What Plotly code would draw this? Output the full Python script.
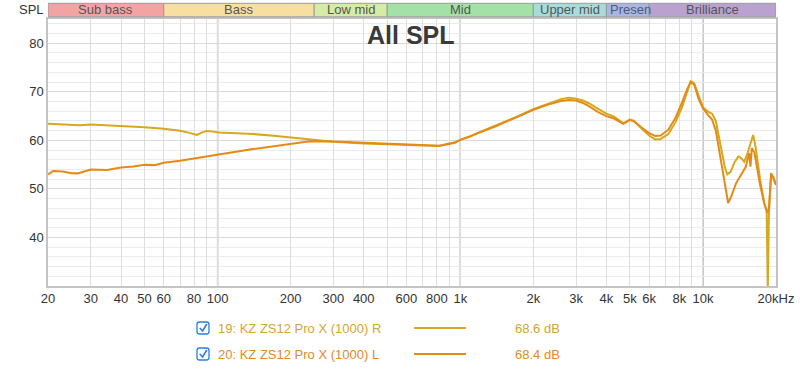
import numpy as np
import plotly.graph_objects as go

# ---------------- data ----------------
freq_r = [20, 22, 24.6, 27, 30, 35, 40, 45, 50, 60, 70, 76, 82, 86, 90, 96, 101, 120, 140, 170, 192,
          240, 300, 400, 500, 600, 700, 820, 870, 950, 1000, 1100, 1200, 1400, 1700, 2000, 2300,
          2600, 2800, 3000, 3200, 3400, 3700, 4000, 4300, 4700, 5000, 5200, 5600, 6000, 6350,
          6700, 7200, 7700, 8200, 8600, 8900, 9200, 9600, 10000, 10500, 10900, 11300, 11800,
          12300, 12600, 13000, 13500, 14000, 14400, 14800, 15300, 15800, 16100, 16500, 17200,
          17900, 18300, 18500, 18700, 19100, 19500, 20000]
spl_r = [63.4, 63.3, 63.05, 63.1, 63.25, 63.1, 63.0, 62.85, 62.7, 62.4, 62.0, 61.6, 61.1, 61.6, 61.95,
         61.8, 61.6, 61.45, 61.3, 60.95, 60.65, 60.1, 59.7, 59.35, 59.15, 59.0, 58.9, 58.85, 59.2,
         59.6, 60.1, 60.8, 61.7, 63.0, 64.8, 66.4, 67.6, 68.5, 68.8, 68.6, 68.2, 67.6, 66.5, 65.5,
         64.9, 63.5, 64.3, 64.0, 62.4, 61.0, 60.2, 60.3, 61.3, 63.7, 66.8, 70.0, 72.2, 71.8, 69.0,
         66.8, 65.9, 65.5, 64.0, 59.5, 54.5, 53.0, 53.5, 55.5, 56.7, 56.3, 55.6, 57.5, 60.0, 61.1,
         58.5, 51.9, 47.0, 45.5, 29.0, 45.0, 53.0, 52.5, 51.0]

freq_l = [20, 21, 23, 25, 26.5, 30, 35, 40, 45, 50, 55, 60, 70, 82, 101, 140, 192, 240, 300, 400,
          500, 600, 700, 820, 870, 950, 1000, 1100, 1200, 1400, 1700, 2000, 2300, 2600, 2800,
          3000, 3200, 3400, 3700, 4000, 4300, 4700, 5000, 5200, 5600, 6000, 6350, 6700, 7200,
          7700, 8200, 8600, 8900, 9200, 9600, 10000, 10500, 10900, 11300, 11800, 12300, 12700,
          13100, 13700, 14400, 15000, 15500, 15700, 15900, 16300, 17200, 17900, 18400, 18700,
          19100, 19500, 20000]
spl_l = [53.0, 53.7, 53.6, 53.25, 53.2, 54.0, 53.9, 54.4, 54.6, 55.0, 54.9, 55.4, 55.8, 56.3, 57.1,
         58.2, 59.2, 59.8, 59.75, 59.5, 59.3, 59.1, 59.0, 58.9, 59.1, 59.5, 60.1, 60.8, 61.6, 62.9,
         64.7, 66.3, 67.4, 68.1, 68.3, 68.2, 67.7, 67.0, 65.8, 65.0, 64.5, 63.4, 64.2, 63.9, 62.6,
         61.5, 60.9, 61.0, 62.2, 64.6, 67.8, 70.5, 72.0, 71.5, 68.5, 66.6, 65.2, 64.3, 62.0, 56.5,
         50.5, 47.1, 48.5, 51.2, 53.0, 54.5, 57.4, 54.6, 58.4, 57.5, 50.8, 47.0, 45.1, 46.0, 53.25,
         52.2, 50.8]

series_names = ["19: KZ ZS12 Pro X (1000) R", "20: KZ ZS12 Pro X (1000) L"]
series_avg = ["68.6 dB", "68.4 dB"]

band_names = ["Sub bass", "Bass", "Low mid", "Mid", "Upper mid", "Presen", "Brilliance"]
band_edges = [20, 60, 250, 500, 2000, 4000, 6000, 20000]

x_grid = [20, 30, 40, 50, 60, 70, 80, 90, 100, 200, 300, 400, 500, 600, 700, 800, 900,
          1000, 2000, 3000, 4000, 5000, 6000, 7000, 8000, 9000, 10000, 20000]
x_labels = {20: "20", 30: "30", 40: "40", 50: "50", 60: "60", 80: "80", 100: "100",
            200: "200", 300: "300", 400: "400", 600: "600", 800: "800", 1000: "1k",
            2000: "2k", 3000: "3k", 4000: "4k", 5000: "5k", 6000: "6k", 8000: "8k",
            10000: "10k", 20000: "20kHz"}
x_major = [100, 1000, 10000]
y_ticks = [40, 50, 60, 70, 80]

# ---------------- styling ----------------
W, H = 800, 369
L_M, R_M, T_M, B_M = 48, 24, 19, 83
PW, PH = W - L_M - R_M, H - T_M - B_M
FONT = "Liberation Sans, Arial, Helvetica, sans-serif"
col_r, col_l = "#d6a81e", "#e58a17"
txt_r, txt_l = "#d2a535", "#e3892a"
band_colors = ["#f4a3a5", "#f7dfa1", "#d5eca4", "#a4e1a6", "#a6dddb", "#a9b6e2", "#b9a2cf"]


def PX(x):
    return (x - L_M) / PW


def PY(y):
    return (T_M + PH - y) / PH


fig = go.Figure()
fig.add_trace(go.Scatter(x=freq_r, y=spl_r, mode="lines", line=dict(color=col_r, width=2),
                         name=series_names[0], showlegend=False))
fig.add_trace(go.Scatter(x=freq_l, y=spl_l, mode="lines", line=dict(color=col_l, width=2),
                         name=series_names[1], showlegend=False))

shapes = []
for f in x_major:
    shapes.append(dict(type="line", xref="x", yref="paper", x0=f, x1=f, y0=0, y1=1,
                       line=dict(color="#b3b3b3", width=1.5), layer="below"))

# frequency bands on top
for i, name in enumerate(band_names):
    f0, f1 = band_edges[i], band_edges[i + 1]
    shapes.append(dict(type="rect", xref="x", yref="paper", x0=f0, x1=f1,
                       y0=PY(16.8), y1=PY(3.3), fillcolor=band_colors[i],
                       line=dict(color="#9a9a9a", width=1)))

annotations = []
for i, name in enumerate(band_names):
    f0, f1 = band_edges[i], band_edges[i + 1]
    xc = (np.log10(f0) + np.log10(f1)) / 2
    if name == "Presen":
        xc = np.log10(f0) + 0.005
        annotations.append(dict(x=xc, y=PY(10), xref="x", yref="paper", text=name,
                                showarrow=False, xanchor="left", yanchor="middle",
                                font=dict(family=FONT, size=13, color="#4f5a7a")))
        continue
    annotations.append(dict(x=xc, y=PY(10), xref="x", yref="paper", text=name,
                            showarrow=False, xanchor="center", yanchor="middle",
                            font=dict(family=FONT, size=13, color="#555555")))

annotations.append(dict(x=PX(46), y=PY(9.5), xref="paper", yref="paper", text="SPL",
                        showarrow=False, xanchor="right", yanchor="middle",
                        font=dict(family=FONT, size=13, color="#333333")))
annotations.append(dict(x=PX(411), y=PY(35), xref="paper", yref="paper", text="<b>All SPL</b>",
                        showarrow=False, xanchor="center", yanchor="middle",
                        font=dict(family=FONT, size=25, color="#3a3a3a")))

# legend rows
rows = [(328, col_r, txt_r), (354, col_l, txt_l)]
for i, (yy, lc, tc) in enumerate(rows):
    x0b, x1b, y0b, y1b = 197, 209, yy - 6, yy + 6
    r = 2.5
    path = (f"M {PX(x0b + r)},{PY(y0b)} L {PX(x1b - r)},{PY(y0b)} Q {PX(x1b)},{PY(y0b)} {PX(x1b)},{PY(y0b + r)} "
            f"L {PX(x1b)},{PY(y1b - r)} Q {PX(x1b)},{PY(y1b)} {PX(x1b - r)},{PY(y1b)} "
            f"L {PX(x0b + r)},{PY(y1b)} Q {PX(x0b)},{PY(y1b)} {PX(x0b)},{PY(y1b - r)} "
            f"L {PX(x0b)},{PY(y0b + r)} Q {PX(x0b)},{PY(y0b)} {PX(x0b + r)},{PY(y0b)} Z")
    shapes.append(dict(type="path", xref="paper", yref="paper", path=path,
                       line=dict(color="#2b7de0", width=1.3), fillcolor="white"))
    chk = f"M {PX(199.8)},{PY(yy)} L {PX(202.6)},{PY(yy + 3)} L {PX(206.8)},{PY(yy - 4)}"
    shapes.append(dict(type="path", xref="paper", yref="paper", path=chk,
                       line=dict(color="#2b7de0", width=1.6)))
    shapes.append(dict(type="line", xref="paper", yref="paper", x0=PX(414), x1=PX(466),
                       y0=PY(yy), y1=PY(yy), line=dict(color=lc, width=2)))
    annotations.append(dict(x=PX(216), y=PY(yy), xref="paper", yref="paper", text=series_names[i],
                            showarrow=False, xanchor="left", yanchor="middle",
                            font=dict(family=FONT, size=13, color=tc)))
    annotations.append(dict(x=PX(562), y=PY(yy), xref="paper", yref="paper", text=series_avg[i],
                            showarrow=False, xanchor="right", yanchor="middle",
                            font=dict(family=FONT, size=13, color=tc)))

fig.update_layout(
    width=W, height=H,
    margin=dict(l=L_M, r=R_M, t=T_M, b=B_M, pad=0),
    paper_bgcolor="white", plot_bgcolor="white",
    shapes=shapes, annotations=annotations,
    font=dict(family=FONT, size=13, color="#333333"),
    xaxis=dict(type="log", range=[np.log10(20), np.log10(20000)],
               tickmode="array", tickvals=x_grid,
               ticktext=[x_labels.get(v, "") for v in x_grid],
               showgrid=True, gridcolor="#dedede", gridwidth=1,
               showline=True, linecolor="#c4c4c4", linewidth=1.5, mirror=True,
               ticks="", zeroline=False, automargin=False,
               tickfont=dict(family=FONT, size=13, color="#333333")),
    yaxis=dict(range=[30, 85], tickmode="array", tickvals=y_ticks,
               showgrid=True, gridcolor="#dadada", gridwidth=1.2,
               minor=dict(dtick=2, tick0=30, showgrid=True, gridcolor="#ebebeb", gridwidth=1),
               showline=True, linecolor="#c4c4c4", linewidth=1.5, mirror=True,
               ticks="", zeroline=False, automargin=False,
               tickfont=dict(family=FONT, size=13, color="#333333")),
)

fig.write_html("out.html", config={"displayModeBar": False},
               post_script="document.body.style.margin='0';document.body.style.padding='0';")
